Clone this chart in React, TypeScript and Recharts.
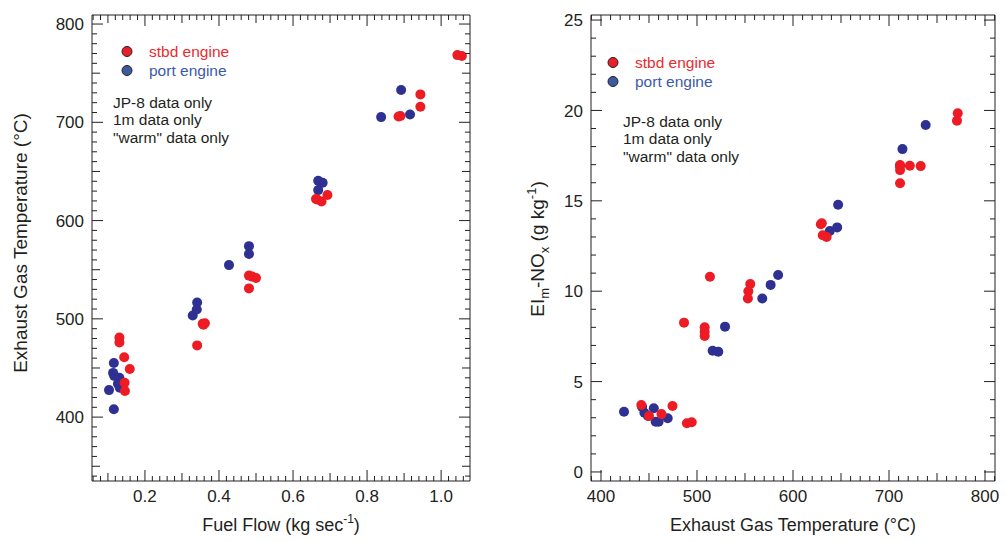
import React from "react";
import { ScatterChart, Scatter, XAxis, YAxis } from "recharts";

const FONT = '"Liberation Sans", Arial, Helvetica, sans-serif';
const INK = "#231f20";
const RED = "#ed1c24";
const BLUE = "#2e3192";

// left panel: fuel flow (kg/s) vs exhaust gas temperature (°C)
const stbdFuelFlow = [0.131, 0.131, 0.144, 0.159, 0.145, 0.146, 0.341, 0.356, 0.362, 0.358, 0.481, 0.481, 0.49, 0.5, 0.662, 0.665, 0.677, 0.693, 0.885, 0.89, 0.944, 0.944, 1.044, 1.056];
const stbdEGT = [481, 476, 461, 449, 435, 426.5, 473, 495, 495.5, 494, 531, 544, 543, 541.5, 622, 621.5, 619.5, 626, 706, 706.4, 728.4, 715.8, 768.4, 767.4];
const portFuelFlow = [0.116, 0.114, 0.117, 0.131, 0.127, 0.132, 0.103, 0.116, 0.341, 0.34, 0.329, 0.427, 0.481, 0.481, 0.668, 0.68, 0.668, 0.838, 0.892, 0.916];
const portEGT = [455, 445, 442, 440, 434, 430, 427.5, 408, 516.7, 509.6, 503.5, 554.7, 574, 566, 640.5, 638.5, 631, 705.3, 732.8, 708];

// right panel: exhaust gas temperature vs EI NOx (g/kg)
const stbdTemp = [442, 450, 463, 474.5, 489.5, 494.5, 486.5, 508, 508, 508, 513.5, 555.5, 553.5, 553, 630, 629, 631, 635, 711.5, 711.5, 711.5, 721.7, 733, 771.6, 770.8];
const stbdEINOx = [3.7, 3.1, 3.2, 3.65, 2.69, 2.75, 8.26, 8.0, 7.76, 7.52, 10.8, 10.4, 10.0, 9.6, 13.76, 13.7, 13.1, 13.0, 16.98, 16.7, 15.97, 16.94, 16.92, 19.84, 19.43];
const portTemp = [424, 442.8, 445.2, 449, 455, 457, 460, 469.5, 516.3, 522.2, 529.2, 568, 576.7, 584.5, 638.3, 646, 647, 711.4, 714, 738.2];
const portEINOx = [3.33, 3.6, 3.28, 3.1, 3.52, 2.78, 2.78, 2.97, 6.71, 6.65, 8.04, 9.6, 10.35, 10.9, 13.33, 13.53, 14.78, 16.94, 17.86, 19.19];

const fuelTickLabels = ["0.2", "0.4", "0.6", "0.8", "1.0"];
const egtTickLabels = ["400", "500", "600", "700", "800"];
const noxTickLabels = ["0", "5", "10", "15", "20", "25"];

const zip = (xs: number[], ys: number[]) => xs.map((x, i) => ({ x, y: ys[i] }));

const steps = (a: number, b: number, s: number) => {
  const out: number[] = [];
  const n = Math.round((b - a) / s);
  for (let i = 0; i <= n; i++) out.push(Math.round((a + i * s) * 1000) / 1000);
  return out;
};

const near = (v: number, m: number) => Math.abs(v / m - Math.round(v / m)) < 1e-6;

type Side = "left" | "right" | "top" | "bottom";

function makeTick(side: Side, major: number, mid: number | null, labels?: string[]) {
  return (props: any) => {
    const { x, y, payload } = props;
    const v: number = payload.value;
    const len = near(v, major) ? 11 : mid && near(v, mid) ? 8 : 5;
    let x2 = x;
    let y2 = y;
    if (side === "left") x2 = x + len;
    else if (side === "right") x2 = x - len;
    else if (side === "bottom") y2 = y - len;
    else y2 = y + len;
    const lab = labels ? labels.find((l) => Math.abs(Number(l) - v) < 1e-6) : undefined;
    return (
      <g>
        <line x1={x} y1={y} x2={x2} y2={y2} stroke={INK} strokeWidth={1} />
        {lab !== undefined && side === "left" && (
          <text x={x - 8} y={y} dy="0.36em" textAnchor="end" fontSize={17} fontFamily={FONT} fill={INK}>
            {lab}
          </text>
        )}
        {lab !== undefined && side === "bottom" && (
          <text x={x} y={y + 21} textAnchor="middle" fontSize={17} fontFamily={FONT} fill={INK}>
            {lab}
          </text>
        )}
      </g>
    );
  };
}

const dot = (fill: string) => (p: any) => <circle cx={p.cx} cy={p.cy} r={5} fill={fill} />;

type PanelProps = {
  left: number;
  width: number;
  marginRight: number;
  xDomain: [number, number];
  yDomain: [number, number];
  xTicks: number[];
  yTicks: number[];
  xMajor: number;
  xMid: number | null;
  yMajor: number;
  yMid: number | null;
  xLabels: string[];
  yLabels: string[];
  stbd: { x: number; y: number }[];
  port: { x: number; y: number }[];
};

function Panel(p: PanelProps) {
  const axisLine = { stroke: INK, strokeWidth: 1 };
  return (
    <div style={{ position: "absolute", left: p.left, top: 0 }}>
      <ScatterChart width={p.width} height={542} margin={{ top: 14, right: p.marginRight, bottom: 0, left: 0 }}>
        <XAxis
          xAxisId="b"
          type="number"
          dataKey="x"
          orientation="bottom"
          domain={p.xDomain}
          allowDataOverflow
          ticks={p.xTicks}
          interval={0}
          height={61}
          tickSize={0}
          tickMargin={0}
          tickLine={false}
          axisLine={axisLine}
          tick={makeTick("bottom", p.xMajor, p.xMid, p.xLabels)}
        />
        <XAxis
          xAxisId="t"
          type="number"
          dataKey="x"
          orientation="top"
          domain={p.xDomain}
          allowDataOverflow
          ticks={p.xTicks}
          interval={0}
          height={1}
          tickSize={0}
          tickMargin={0}
          tickLine={false}
          axisLine={axisLine}
          tick={makeTick("top", p.xMajor, p.xMid)}
        />
        <YAxis
          yAxisId="l"
          type="number"
          dataKey="y"
          orientation="left"
          domain={p.yDomain}
          allowDataOverflow
          ticks={p.yTicks}
          interval={0}
          width={92}
          tickSize={0}
          tickMargin={0}
          tickLine={false}
          axisLine={axisLine}
          tick={makeTick("left", p.yMajor, p.yMid, p.yLabels)}
        />
        <YAxis
          yAxisId="r"
          type="number"
          dataKey="y"
          orientation="right"
          domain={p.yDomain}
          allowDataOverflow
          ticks={p.yTicks}
          interval={0}
          width={1}
          tickSize={0}
          tickMargin={0}
          tickLine={false}
          axisLine={axisLine}
          tick={makeTick("right", p.yMajor, p.yMid)}
        />
        <Scatter xAxisId="b" yAxisId="l" data={p.port} shape={dot(BLUE)} isAnimationActive={false} />
        <Scatter xAxisId="b" yAxisId="l" data={p.stbd} shape={dot(RED)} isAnimationActive={false} />
        <Scatter xAxisId="t" yAxisId="r" data={p.stbd} shape={() => <g />} isAnimationActive={false} />
      </ScatterChart>
    </div>
  );
}

function Legend({ x, y, noteX, noteY }: { x: number; y: number; noteX: number; noteY: number }) {
  const fs = 15.5;
  return (
    <g fontFamily={FONT} fontSize={fs}>
      <circle cx={x} cy={y} r={5} fill="#e8202a" stroke={INK} strokeWidth={1} />
      <text x={x + 22} y={y} dy="0.36em" fill="#ec2a2e">stbd engine</text>
      <circle cx={x} cy={y + 19} r={5} fill="#3b5aa0" stroke={INK} strokeWidth={1} />
      <text x={x + 22} y={y + 19} dy="0.36em" fill="#3c5aa8">port engine</text>
      <text x={noteX} y={noteY} dy="0.36em" fill={INK}>JP-8 data only</text>
      <text x={noteX} y={noteY + 17.8} dy="0.36em" fill={INK}>1m data only</text>
      <text x={noteX} y={noteY + 35.6} dy="0.36em" fill={INK}>"warm" data only</text>
    </g>
  );
}

export default function App() {
  return (
    <div style={{ position: "absolute", left: 0, top: 0, width: 1005, height: 542, background: "#fff" }}>
      <Panel
        left={0}
        width={490}
        marginRight={19}
        xDomain={[0.057, 1.078]}
        yDomain={[335, 809.2]}
        xTicks={steps(0.06, 1.06, 0.02)}
        yTicks={steps(340, 800, 10)}
        xMajor={0.2}
        xMid={0.1}
        yMajor={100}
        yMid={50}
        xLabels={fuelTickLabels}
        yLabels={egtTickLabels}
        stbd={zip(stbdFuelFlow, stbdEGT)}
        port={zip(portFuelFlow, portEGT)}
      />
      <Panel
        left={499}
        width={506}
        marginRight={9}
        xDomain={[389.6, 810.4]}
        yDomain={[-0.5, 25.28]}
        xTicks={steps(390, 810, 10)}
        yTicks={steps(0, 25, 1)}
        xMajor={100}
        xMid={50}
        yMajor={5}
        yMid={null}
        xLabels={egtTickLabels}
        yLabels={noxTickLabels}
        stbd={zip(stbdTemp, stbdEINOx)}
        port={zip(portTemp, portEINOx)}
      />
      <svg width={1005} height={542} style={{ position: "absolute", left: 0, top: 0, pointerEvents: "none" }}>
        <Legend x={127} y={51.5} noteX={113} noteY={102} />
        <Legend x={613} y={62.5} noteX={623} noteY={121} />
        <g fontFamily={FONT} fill={INK}>
          <text transform="translate(20,243) rotate(-90)" dy="0.36em" textAnchor="middle" fontSize={19}>
            Exhaust Gas Temperature (°C)
          </text>
          <text transform="translate(537,249) rotate(-90)" dy="0.36em" textAnchor="middle" fontSize={19}>
            EI<tspan fontSize={13} dy={5}>m</tspan>
            <tspan dy={-5}>-NO</tspan>
            <tspan fontSize={13} dy={5}>x</tspan>
            <tspan dy={-5}> (g kg</tspan>
            <tspan fontSize={13} dy={-8}>-1</tspan>
            <tspan dy={8}>)</tspan>
          </text>
          <text x={281} y={531} textAnchor="middle" fontSize={18}>
            Fuel Flow (kg sec<tspan fontSize={12} dy={-8}>-1</tspan>
            <tspan dy={8}>)</tspan>
          </text>
          <text x={793} y={531} textAnchor="middle" fontSize={18}>
            Exhaust Gas Temperature (°C)
          </text>
        </g>
      </svg>
    </div>
  );
}
